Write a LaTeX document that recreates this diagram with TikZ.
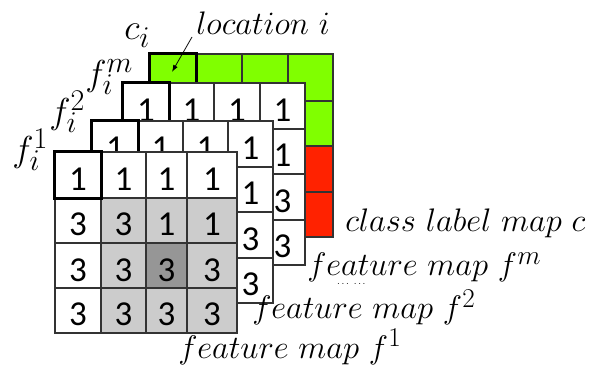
\documentclass[tikz,border=0pt]{standalone}
\usepackage{fontspec}
\newfontfamily\cellfont{Carlito}
\usetikzlibrary{arrows.meta}
\definecolor{limecell}{HTML}{80FF00}
\definecolor{redcell}{HTML}{FF2200}
\definecolor{lightcell}{HTML}{CCCCCC}
\definecolor{darkcell}{HTML}{969696}
\definecolor{gridline}{HTML}{333333}
\tikzset{
  cellbox/.style={draw=gridline, line width=1.3pt, inner sep=0pt,
    text height=31pt, text depth=0pt,
    font=\cellfont\fontsize{35}{35}\selectfont},
  hot/.style={draw=black, line width=2.8pt},
  lbl/.style={inner sep=0pt, anchor=base west, font=\Huge, scale=1.31},
  idx/.style={inner sep=0pt, anchor=base west, font=\Huge, scale=1.45},
  pointer/.style={-{Latex[length=7pt,width=5pt]}, line width=0.8pt},
}
% 4x4 map: #1 name, #2 column edges, #3 row edges,
% #4 kind (0 class map, 1 back feature map: top row and right column written, 2 front map)
\newcommand\mapgrid[4]{%
  \foreach \row in {0,...,3}{
    \foreach \col in {0,...,3}{
      \pgfmathsetmacro\xa{{#2}[\col]}
      \pgfmathsetmacro\xb{{#2}[\col+1]}
      \pgfmathsetmacro\ya{{#3}[\row]}
      \pgfmathsetmacro\yb{{#3}[\row+1]}
      \pgfmathtruncatemacro\cellval{{1,1,1,1,3,3,1,1,3,3,3,3,3,3,3,3}[4*\row+\col]}
      \def\fc{white}\def\txt{\cellval}
      \ifnum#4=0 \def\txt{}\ifnum\row<2 \def\fc{limecell}\else\def\fc{redcell}\fi\fi
      \ifnum#4=1
        \ifnum\row>0 \ifnum\col<3 \def\txt{}\fi\fi
      \fi
      \ifnum#4=2
        \ifnum\row>0 \ifnum\col>0 \def\fc{lightcell}\fi\fi
        \ifnum\row=2 \ifnum\col=2 \def\fc{darkcell}\fi\fi
      \fi
      \node[cellbox, fill=\fc, minimum width={(\xb-\xa)*1pt},
        minimum height={(\yb-\ya)*1pt}] (#1-\row-\col)
        at ({(\xa+\xb)/2},{(\ya+\yb)/2}) {\txt};
    }
  }
  \draw[hot] (#1-0-0.north west) rectangle (#1-0-0.south east);
}
\begin{document}
\begin{tikzpicture}[x=1pt,y=-1pt]
  \fill[white] (0,0) rectangle (592,366);
  \useasboundingbox (0,0) rectangle (592,366);

  % stacked maps, back to front
  \mapgrid{cm}{150,196,242,288,333}{54,101,146,192,237}{0}
  \mapgrid{fm}{123,169,214,260,305}{83,129,174,220,265}{1}
  \mapgrid{fb}{92,138,183,228,273}{121,167,212,258,303}{1}
  \mapgrid{fa}{55,101,146,187,237}{152,198,243,288,333}{2}

  % labels
  \node[idx] (ci) at (124,40) {$c_i$};
  \node[lbl] (loc) at (196,35) {$location\ i$};
  \node[idx] (fmi) at (85,86) {$f_i^m$};
  \node[idx] (f2i) at (49,124) {$f_i^2$};
  \node[idx] (f1i) at (12,162) {$f_i^1$};
  \node[lbl] (cmap) at (345,232) {$class\ label\ map\ c$};
  \node[lbl] (fmmap) at (307,276) {$feature\ map\ f^m$};
  \node[inner sep=0pt, anchor=base west, font=\normalsize] (dots) at (337,284) {$\dots\ \dots$};
  \node[lbl] (f2map) at (252,319) {$feature\ map\ f^2$};
  \node[lbl] (f1map) at (178,358) {$feature\ map\ f^1$};

  % pointer to the location in the class map
  \coordinate (tip) at (172,72);
  \draw[pointer] ([xshift=-4pt,yshift=-2pt]loc.base west) -- (tip);
\end{tikzpicture}
\end{document}
